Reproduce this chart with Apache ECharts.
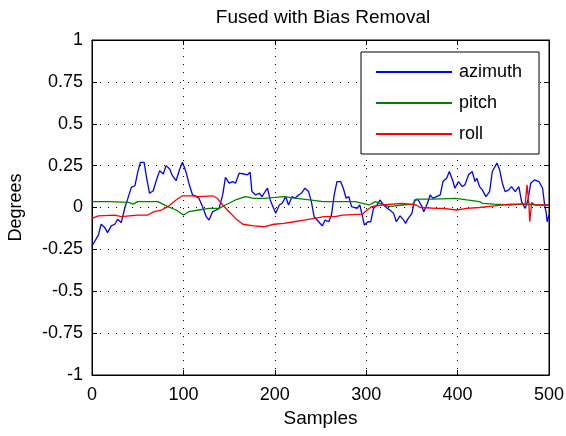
<!DOCTYPE html>
<html>
<head>
<meta charset="utf-8">
<script src="https://cdn.jsdelivr.net/npm/echarts@6/dist/echarts.min.js"></script>
<style>html,body{margin:0;padding:0;background:#fff;}#c{width:566px;height:436px;}</style>
</head>
<body>
<div id="c"></div>
<script>
var titleText = 'Fused with Bias Removal';
var xTicks = [0, 100, 200, 300, 400, 500];
var yTicks = [-1, -0.75, -0.5, -0.25, 0, 0.25, 0.5, 0.75, 1];

var azimuthSamples = [0,2,7,10,14,17,21,25,28,32,36,39,43,47,50,53,57,60,63,67,70,74,78,81,85,88,92,96,99,103,106,110,114,117,121,125,128,132,136,139,143,146,150,154,157,161,166,170,173,175,179,183,186,190,192,195,198,201,205,208,212,215,219,222,226,229,233,237,240,243,248,252,255,259,262,265,268,272,275,278,281,284,286,290,293,296,298,302,305,308,312,315,319,323,326,330,333,337,341,343,346,350,353,357,361,363,367,370,373,377,381,384,388,391,395,397,401,405,408,412,416,419,421,424,427,431,435,438,441,443,446,449,452,456,459,463,467,470,474,477,480,484,489,493,495,497,498,500];
var azimuthValues = [-0.23,-0.22,-0.165,-0.10,-0.12,-0.15,-0.11,-0.10,-0.07,-0.09,0.0,0.05,0.12,0.13,0.21,0.27,0.27,0.17,0.085,0.10,0.155,0.22,0.20,0.25,0.23,0.19,0.16,0.23,0.27,0.21,0.145,0.075,0.065,0.055,0.005,-0.055,-0.075,-0.025,-0.015,-0.005,0.075,0.18,0.145,0.155,0.145,0.205,0.20,0.195,0.21,0.095,0.075,0.085,0.065,0.10,0.115,0.045,0.005,-0.035,0.015,0.025,0.065,0.015,0.065,0.055,0.075,0.085,0.115,0.095,0.035,-0.055,-0.085,-0.11,-0.075,-0.085,-0.045,0.075,0.155,0.155,0.115,0.055,0.065,0.005,0.015,-0.005,0.015,-0.055,-0.105,-0.085,-0.085,-0.005,0.015,0.045,0.015,-0.005,-0.015,-0.035,-0.085,-0.05,-0.075,-0.095,-0.065,-0.035,0.045,0.045,0.005,-0.025,0.025,0.075,0.055,0.065,0.075,0.155,0.175,0.215,0.155,0.115,0.155,0.125,0.135,0.195,0.215,0.155,0.175,0.125,0.105,0.065,0.095,0.215,0.245,0.265,0.225,0.145,0.095,0.105,0.125,0.095,0.125,0.035,-0.005,0.045,0.145,0.165,0.155,0.115,0.025,-0.035,-0.085,-0.045];

var pitchSamples = [0,20,40,45,50,72,83,92,100,106,117,128,139,146,157,168,177,188,200,210,224,238,253,270,288,303,310,325,339,351,355,373,398,410,424,427,440,457,470,490,500];
var pitchValues = [0.035,0.035,0.03,0.02,0.035,0.035,0.005,-0.015,-0.045,-0.025,-0.015,-0.005,-0.005,0.015,0.045,0.065,0.055,0.055,0.06,0.065,0.055,0.045,0.035,0.035,0.035,0.015,0.035,0.005,0.015,0.02,0.05,0.05,0.055,0.045,0.035,0.025,0.02,0.015,0.02,0.015,0.015];

var rollSamples = [0,7,25,32,50,61,68,76,83,92,99,110,117,132,137,143,150,157,165,177,188,199,210,221,232,243,254,266,274,296,301,306,317,339,355,359,377,384,399,410,424,440,457,474,476,478,479,481,485,500];
var rollValues = [-0.065,-0.05,-0.045,-0.055,-0.045,-0.045,-0.025,-0.015,0.005,0.045,0.07,0.07,0.065,0.07,0.055,0.015,-0.025,-0.065,-0.1,-0.11,-0.115,-0.1,-0.095,-0.085,-0.075,-0.065,-0.055,-0.055,-0.045,-0.04,-0.015,0.005,0.015,0.025,0.015,0.0,-0.005,-0.005,-0.015,-0.005,0.0,0.01,0.02,0.02,0.135,0.02,-0.085,0.03,0.015,0.015];

function pairs(xs, ys) { return xs.map(function (x, i) { return [x, ys[i]]; }); }

var FONT = 'Liberation Sans, Arial, sans-serif';
var FS = 18;
var chart = echarts.init(document.getElementById('c'), null, {renderer: 'canvas'});
var tickStyle = {show: true, inside: true, length: 5, lineStyle: {color: '#000', width: 1}};
var dotted = {show: true, lineStyle: {color: '#000', type: [1, 7], width: 1}};
var axLine = {show: true, onZero: false, lineStyle: {color: '#000'}};
chart.setOption({
  backgroundColor: '#fff',
  animation: false,
  title: {
    text: titleText, left: 318, top: 3, textAlign: 'center',
    textStyle: {fontFamily: FONT, fontSize: 19, fontWeight: 'normal', color: '#000'}
  },
  legend: {
    orient: 'vertical', left: 361, top: 52,
    padding: [11, 17, 11, 15], itemGap: 13, itemWidth: 76, itemHeight: 2,
    icon: 'rect',
    borderColor: '#000', borderWidth: 1, backgroundColor: '#fff',
    textStyle: {fontFamily: FONT, fontSize: FS, lineHeight: 18, color: '#000', padding: [0, 0, 0, 2]},
    data: ['azimuth', 'pitch', 'roll']
  },
  grid: {left: 92, right: 17, top: 40, bottom: 61, containLabel: false, outerBoundsMode: 'none', show: true, borderColor: '#000', borderWidth: 1, backgroundColor: 'transparent'},
  xAxis: [{
    type: 'value', min: 0, max: 500, interval: 100,
    name: 'Samples', nameLocation: 'middle', nameGap: 31,
    nameTextStyle: {fontFamily: FONT, fontSize: 19, color: '#000'},
    axisLine: axLine,
    axisTick: tickStyle,
    axisLabel: {fontFamily: FONT, fontSize: FS, color: '#000', margin: 11},
    splitLine: dotted
  }, {
    type: 'value', min: 0, max: 500, interval: 100, position: 'top',
    axisLine: axLine,
    axisTick: tickStyle, axisLabel: {show: false}, splitLine: {show: false}
  }],
  yAxis: [{
    type: 'value', min: -1, max: 1, interval: 0.25,
    name: 'Degrees', nameLocation: 'middle', nameGap: 67, nameRotate: 90,
    nameTextStyle: {fontFamily: FONT, fontSize: 18, color: '#000'},
    axisLine: axLine,
    axisTick: tickStyle,
    axisLabel: {fontFamily: FONT, fontSize: FS, color: '#000', margin: 9},
    splitLine: dotted
  }, {
    type: 'value', min: -1, max: 1, interval: 0.25, position: 'right',
    axisLine: axLine,
    axisTick: tickStyle, axisLabel: {show: false}, splitLine: {show: false}
  }],
  series: [
    {name: 'azimuth', type: 'line', data: pairs(azimuthSamples, azimuthValues), symbol: 'none', color: '#0000ff', lineStyle: {width: 1.3, color: '#0000ff'}, z: 3},
    {name: 'pitch', type: 'line', data: pairs(pitchSamples, pitchValues), symbol: 'none', color: '#008000', lineStyle: {width: 1.3, color: '#008000'}, z: 4},
    {name: 'roll', type: 'line', data: pairs(rollSamples, rollValues), symbol: 'none', color: '#ff0000', lineStyle: {width: 1.3, color: '#ff0000'}, z: 5}
  ]
});
</script>
</body>
</html>
